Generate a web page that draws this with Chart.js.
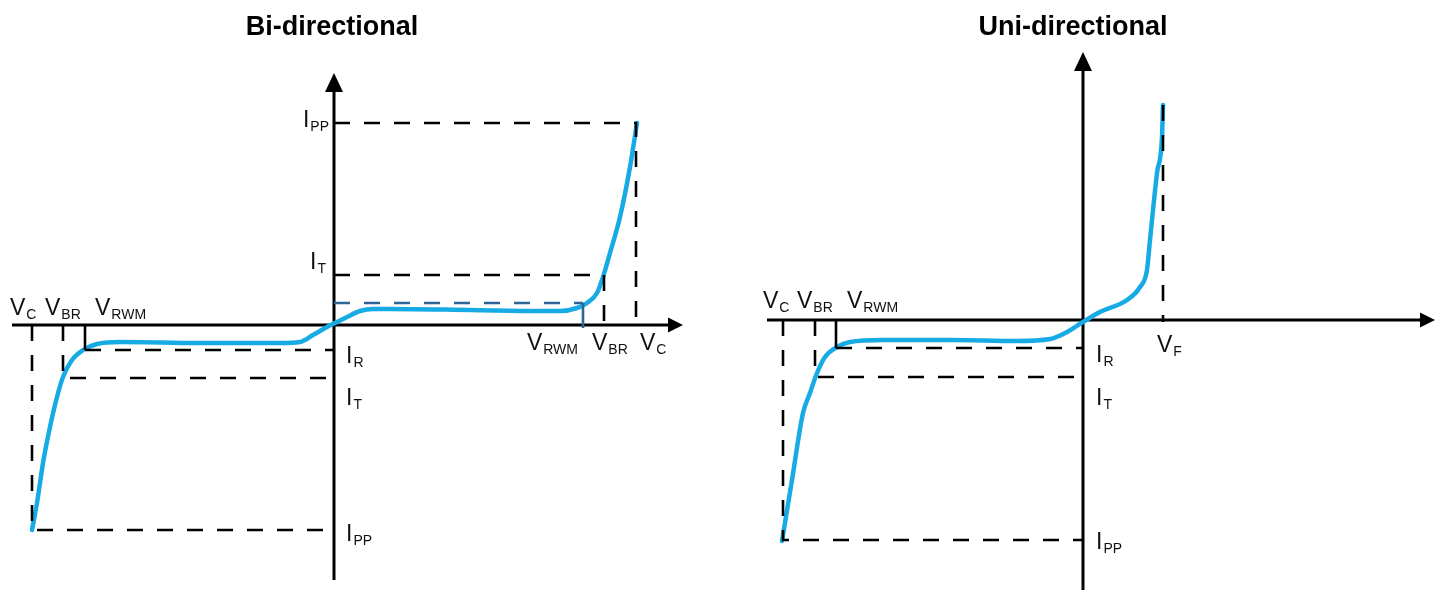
<!DOCTYPE html>
<html>
<head>
<meta charset="utf-8">
<script src="https://cdn.jsdelivr.net/npm/chart.js@4.4.1/dist/chart.umd.min.js"></script>
<style>
  html, body { margin: 0; padding: 0; background: #fff; }
  #wrap { position: relative; width: 1441px; height: 590px; }
  .box { position: absolute; top: 0; height: 590px; }
</style>
</head>
<body>
<div id="wrap">
  <div class="box" style="left:0;width:720px"><canvas id="bi"></canvas></div>
  <div class="box" style="left:720px;width:721px"><canvas id="uni"></canvas></div>
</div>
<script>
// ---- Bi-directional (x = voltage, y = current, arbitrary units) ----
const biCurveV = [-30.2,-29.7,-29.1,-28.4,-27.7,-27.1,-26.2,-25.1,-23.7,-21.4,-13.4,-5.4,-3.4,-2.1,-0.7,0.1,1.3,2.6,3.9,5.6,13.6,20.6,22.6,24.3,25.3,26.3,26.9,27.6,28.6,29.6,30.3];
const biCurveI = [-20.5,-17.8,-13.8,-10.2,-7.2,-5.2,-3.5,-2.5,-1.9,-1.7,-1.8,-1.8,-1.7,-1.0,-0.2,0.2,0.8,1.4,1.6,1.6,1.5,1.4,1.4,1.7,2.2,3.2,4.8,7.2,10.8,15.8,20.2];
const biNegV = [-30.2, -27.1, -24.9];   // VC, VBR, VRWM
const biNegI = [-20.5, -5.3, -2.5];     // IPP, IT, IR
const biPosV = [24.9, 27.0, 30.2];      // VRWM, VBR, VC
const biPosI = [2.2, 5.0, 20.2];        // I(VRWM), IT, IPP
const biAxisV = [-32.2, 34.9];
const biAxisI = [-25.5, 25.2];

// ---- Uni-directional ----
const uniCurveV = [-30.1,-29.1,-28.0,-27.3,-26.6,-25.8,-24.6,-23.3,-20.0,-13.3,-6.6,-3.3,-1.6,0,1.7,4.4,5.7,6.4,6.7,7.4,7.9,8.0];
const uniCurveI = [-22.1,-16,-9.3,-7.3,-5.3,-3.7,-2.7,-2.2,-2.0,-2.0,-2.1,-1.9,-1.2,-0.2,0.8,2.0,3.3,5.0,8.0,14.7,18.3,21.5];
const uniNegV = [-30.0, -26.8, -24.7];  // VC, VBR, VRWM
const uniNegI = [-22.0, -5.7, -2.8];    // IPP, IT, IR
const uniFwdV = [8.0];                  // VF
const uniFwdI = [21.5];
const uniAxisV = [-31.6, 35.2];
const uniAxisI = [-27, 26.8];

// label text
const negVSubs = ['C', 'BR', 'RWM'];
const negISubs = ['PP', 'T', 'R'];
const posVSubs = ['RWM', 'BR', 'C'];
const posISubs = ['', 'T', 'PP'];

const FONT = '"Liberation Sans", Arial, sans-serif';
const BLUE = '#17abe6';
const DARKBLUE = '#2f6497';

function pts(xs, ys) { return xs.map((v, i) => ({ x: v, y: ys[i] })); }

function guide(points, dashed, color) {
  return {
    data: points, showLine: true, borderColor: color || '#000', borderWidth: 2.6,
    borderDash: dashed ? [16, 14] : [], pointRadius: 0, tension: 0, order: 1, clip: false
  };
}

function curve(xs, ys) {
  return {
    data: pts(xs, ys), showLine: true, borderColor: BLUE, borderWidth: 4.5,
    pointRadius: 0, cubicInterpolationMode: 'monotone', order: 2, clip: false,
    borderCapStyle: 'round'
  };
}

function subLabel(ctx, main, sub, x, y, align) {
  ctx.font = '23px ' + FONT;
  const w1 = ctx.measureText(main).width;
  ctx.font = '14px ' + FONT;
  const w2 = ctx.measureText(sub).width;
  const x0 = align === 'right' ? x - w1 - w2 - 1 : x;
  ctx.textAlign = 'left';
  ctx.textBaseline = 'alphabetic';
  ctx.fillStyle = '#111';
  ctx.font = '23px ' + FONT;
  ctx.fillText(main, x0, y);
  ctx.font = '14px ' + FONT;
  ctx.fillText(sub, x0 + w1 + 1, y + 4);
}

function axesPlugin(axV, axI) {
  return {
    id: 'ivAxes',
    beforeDatasetsDraw(chart) {
      const ctx = chart.ctx, sx = chart.scales.x, sy = chart.scales.y;
      const x0 = sx.getPixelForValue(0), y0 = sy.getPixelForValue(0);
      const xl = sx.getPixelForValue(axV[0]), xr = sx.getPixelForValue(axV[1]);
      const yb = sy.getPixelForValue(axI[0]), yt = sy.getPixelForValue(axI[1]);
      ctx.save();
      ctx.strokeStyle = '#000';
      ctx.fillStyle = '#000';
      ctx.lineWidth = 3;
      ctx.beginPath();
      ctx.moveTo(xl, y0); ctx.lineTo(xr - 12, y0);
      ctx.moveTo(x0, yb); ctx.lineTo(x0, yt + 14);
      ctx.stroke();
      ctx.beginPath();
      ctx.moveTo(xr, y0); ctx.lineTo(xr - 15, y0 - 7.5); ctx.lineTo(xr - 15, y0 + 7.5);
      ctx.closePath(); ctx.fill();
      ctx.beginPath();
      ctx.moveTo(x0, yt); ctx.lineTo(x0 - 9, yt + 19); ctx.lineTo(x0 + 9, yt + 19);
      ctx.closePath(); ctx.fill();
      ctx.restore();
    }
  };
}

function labelsPlugin(draw) {
  return {
    id: 'ivLabels',
    afterDraw(chart) {
      const ctx = chart.ctx, sx = chart.scales.x, sy = chart.scales.y;
      ctx.save();
      draw(ctx, v => sx.getPixelForValue(v), v => sy.getPixelForValue(v));
      ctx.restore();
    }
  };
}

function title(ctx, text, cx) {
  ctx.font = 'bold 27px ' + FONT;
  ctx.fillStyle = '#000';
  ctx.textAlign = 'center';
  ctx.textBaseline = 'alphabetic';
  ctx.fillText(text, cx, 35);
}

function baseOptions(xmin, xmax, ymin, ymax) {
  return {
    responsive: true,
    maintainAspectRatio: false,
    animation: false,
    layout: { padding: 0, autoPadding: false },
    plugins: { legend: { display: false }, tooltip: { enabled: false } },
    scales: {
      x: { type: 'linear', min: xmin, max: xmax, display: false },
      y: { type: 'linear', min: ymin, max: ymax, display: false }
    }
  };
}

// Bi-directional chart
new Chart(document.getElementById('bi'), {
  type: 'scatter',
  data: {
    datasets: [
      curve(biCurveV, biCurveI),
      guide([{x: biNegV[0], y: 0}, {x: biNegV[0], y: biNegI[0]}, {x: 0, y: biNegI[0]}], true),
      guide([{x: biNegV[1], y: 0}, {x: biNegV[1], y: biNegI[1]}, {x: 0, y: biNegI[1]}], true),
      guide([{x: biNegV[2], y: 0}, {x: biNegV[2], y: biNegI[2]}], false),
      guide([{x: biNegV[2], y: biNegI[2]}, {x: 0, y: biNegI[2]}], true),
      guide([{x: 0, y: biPosI[0]}, {x: biPosV[0], y: biPosI[0]}], true, DARKBLUE),
      guide([{x: biPosV[0], y: biPosI[0]}, {x: biPosV[0], y: -0.3}], false, DARKBLUE),
      guide([{x: 0, y: biPosI[1]}, {x: biPosV[1], y: biPosI[1]}, {x: biPosV[1], y: -0.3}], true),
      guide([{x: 0, y: biPosI[2]}, {x: biPosV[2], y: biPosI[2]}, {x: biPosV[2], y: -0.3}], true)
    ]
  },
  options: baseOptions(-33.4, 38.6, -26.5, 32.5),
  plugins: [
    axesPlugin(biAxisV, biAxisI),
    labelsPlugin((ctx, px, py) => {
      title(ctx, 'Bi-directional', 332);
      const x0 = px(0), y0 = py(0);
      const negDx = [-22, -18, 10];
      negVSubs.forEach((s, i) => subLabel(ctx, 'V', s, px(biNegV[i]) + negDx[i], y0 - 10, 'left'));
      // below the axis, right side
      subLabel(ctx, 'V', posVSubs[0], px(biPosV[0]) - 5, y0 + 25, 'right');
      subLabel(ctx, 'V', posVSubs[1], px(biPosV[1]) - 12, y0 + 25, 'left');
      subLabel(ctx, 'V', posVSubs[2], px(biPosV[2]) + 4, y0 + 25, 'left');
      subLabel(ctx, 'I', posISubs[2], x0 - 5, py(biPosI[2]) + 4, 'right');
      subLabel(ctx, 'I', posISubs[1], x0 - 8, py(biPosI[1]) - 6, 'right');
      const negDy = [11, 27, 13];
      negISubs.forEach((s, i) => subLabel(ctx, 'I', s, x0 + 12, py(biNegI[i]) + negDy[i], 'left'));
    })
  ]
});

// Uni-directional chart
new Chart(document.getElementById('uni'), {
  type: 'scatter',
  data: {
    datasets: [
      curve(uniCurveV, uniCurveI),
      guide([{x: uniNegV[0], y: 0}, {x: uniNegV[0], y: uniNegI[0]}, {x: 0, y: uniNegI[0]}], true),
      guide([{x: uniNegV[1], y: 0}, {x: uniNegV[1], y: uniNegI[1]}, {x: 0, y: uniNegI[1]}], true),
      guide([{x: uniNegV[2], y: 0}, {x: uniNegV[2], y: uniNegI[2]}], false),
      guide([{x: uniNegV[2], y: uniNegI[2]}, {x: 0, y: uniNegI[2]}], true),
      guide([{x: uniFwdV[0], y: uniFwdI[0]}, {x: uniFwdV[0], y: -0.2}], true)
    ]
  },
  options: baseOptions(-36.3, 35.8, -27, 32),
  plugins: [
    axesPlugin(uniAxisV, uniAxisI),
    labelsPlugin((ctx, px, py) => {
      title(ctx, 'Uni-directional', 353);
      const x0 = px(0), y0 = py(0);
      const negDx = [-20, -18, 11];
      negVSubs.forEach((s, i) => subLabel(ctx, 'V', s, px(uniNegV[i]) + negDx[i], y0 - 12, 'left'));
      subLabel(ctx, 'V', 'F', px(uniFwdV[0]) - 6, y0 + 32, 'left');
      const negDy = [9, 28, 14];
      negISubs.forEach((s, i) => subLabel(ctx, 'I', s, x0 + 13, py(uniNegI[i]) + negDy[i], 'left'));
    })
  ]
});
</script>
</body>
</html>
